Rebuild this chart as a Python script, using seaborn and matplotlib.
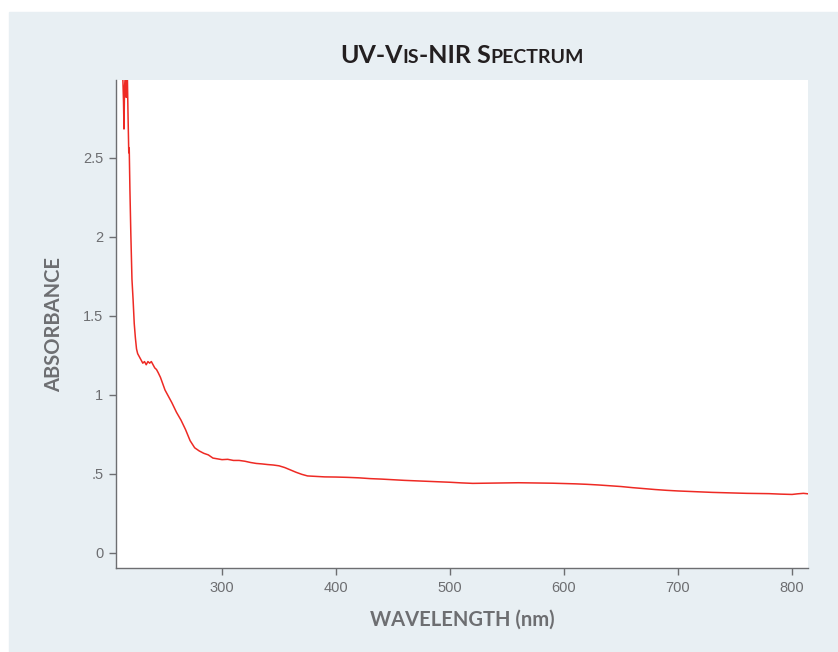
import matplotlib
matplotlib.use("Agg")
import matplotlib.pyplot as plt
import seaborn as sns
from matplotlib.patches import Rectangle

# spectrum
wavelength = [
    207, 213, 213.6, 214.0, 214.5, 215.0, 215.6, 216.0, 216.5, 217.0,
    217.6, 218.2, 218.6, 219.2, 220.0, 221.0, 222.0, 223.0, 224.0, 225.0,
    226.0, 227.5, 229.0, 230.5, 232.0, 233.5, 235.0, 236.5, 238.0, 239.5,
    241.0, 242.5, 244.0, 246.0, 248.0, 250.0, 253.0, 256.0, 260.0, 264.0,
    268.0, 272.0, 276.0, 280.0, 284.0, 288.0, 292.0, 296.0, 300, 305,
    310, 315, 320, 325, 330, 335, 340, 345, 350, 355,
    360, 365, 370, 375, 380, 390, 400, 410, 420, 430,
    440, 450, 460, 470, 480, 490, 500, 510, 520, 530,
    540, 550, 560, 570, 580, 590, 600, 610, 620, 630,
    640, 650, 660, 670, 680, 690, 700, 710, 720, 730,
    740, 750, 760, 770, 780, 790, 795, 800, 805, 810, 814,
]
absorbance = [
    3.0, 3.0, 2.85, 2.68, 2.95, 3.0, 3.0, 2.88, 3.0, 3.0,
    2.75, 2.53, 2.56, 2.30, 2.02, 1.73, 1.60, 1.45, 1.36, 1.29,
    1.26, 1.24, 1.22, 1.20, 1.21, 1.19, 1.21, 1.20, 1.21, 1.19,
    1.17, 1.16, 1.14, 1.11, 1.07, 1.03, 0.99, 0.95, 0.89, 0.84,
    0.78, 0.71, 0.665, 0.645, 0.63, 0.62, 0.60, 0.595, 0.590, 0.592,
    0.585, 0.585, 0.580, 0.572, 0.566, 0.563, 0.559, 0.556, 0.551, 0.540,
    0.525, 0.510, 0.497, 0.487, 0.485, 0.481, 0.480, 0.478, 0.475, 0.470,
    0.467, 0.463, 0.459, 0.456, 0.453, 0.450, 0.447, 0.443, 0.440, 0.441,
    0.442, 0.443, 0.444, 0.443, 0.442, 0.441, 0.439, 0.437, 0.434, 0.430,
    0.425, 0.420, 0.413, 0.407, 0.401, 0.396, 0.392, 0.389, 0.386, 0.383,
    0.381, 0.379, 0.377, 0.376, 0.375, 0.372, 0.371, 0.370, 0.374, 0.377, 0.374,
]
assert len(wavelength) == len(absorbance)

xticks = [300, 400, 500, 600, 700, 800]
yticks = [0, 0.5, 1, 1.5, 2, 2.5]
ytick_labels = ['0', '.5', '1', '1.5', '2', '2.5']

panel = '#e8eff3'
grey = '#6d6e71'
dark = '#231f20'

sns.set_style('white')
plt.rcParams['font.family'] = ['Liberation Sans', 'DejaVu Sans']

fig = plt.figure(figsize=(8.38, 6.52), dpi=100, facecolor='white')
# light panel behind everything, leaving a thin white margin top/left
fig.patches.append(Rectangle((9 / 838, 0), 1, 1 - 12 / 652,
                             transform=fig.transFigure, color=panel, zorder=-10))

ax = fig.add_axes([116 / 838, 1 - 568 / 652, 692 / 838, 488 / 652])
ax.set_facecolor('white')

sns.lineplot(x=wavelength, y=absorbance, ax=ax, color='#ee2a24',
             linewidth=1.1, sort=False, estimator=None)

ax.set_xlim(207, 814)
ax.set_ylim(-0.095, 2.99)
ax.set_xticks(xticks)
ax.set_yticks(yticks)
ax.set_yticklabels(ytick_labels)
ax.tick_params(axis='both', direction='out', length=5, width=1, color=grey,
               labelcolor=grey, labelsize=10.5, pad=4, left=True, bottom=True)

for side in ['top', 'right']:
    ax.spines[side].set_visible(False)
for side in ['left', 'bottom']:
    ax.spines[side].set_color(grey)
    ax.spines[side].set_linewidth(1)

ax.set_xlabel('WAVELENGTH (nm)', fontsize=14.5, fontweight='bold', color=grey,
              family='Lato', labelpad=11)
ax.set_ylabel('ABSORBANCE', fontsize=14.5, fontweight='bold', color=grey,
              family='Lato', labelpad=14)

# small-caps title built from pieces
pieces = [('UV-V', 18), ('IS', 14), ('-NIR S', 18), ('PECTRUM', 14)]
renderer = fig.canvas.get_renderer()
texts = []
for s, size in pieces:
    t = fig.text(0, 0, s, fontsize=size, fontweight='bold', color=dark,
                 family='Lato', va='baseline', ha='left')
    texts.append(t)
widths = [t.get_window_extent(renderer).width for t in texts]
total = sum(widths)
x0 = 462 - total / 2
base = 652 - 63
for t, w in zip(texts, widths):
    t.set_position((x0 / 838, base / 652))
    x0 += w

fig.savefig('out.png', dpi=100, facecolor=fig.get_facecolor())
